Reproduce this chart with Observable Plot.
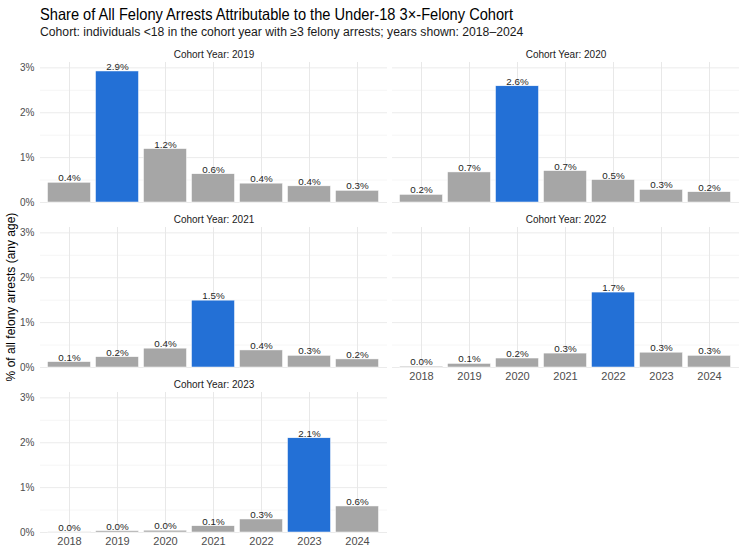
<!DOCTYPE html>
<html><head><meta charset="utf-8">
<script src="https://cdn.jsdelivr.net/npm/d3@7"></script>
<script src="https://cdn.jsdelivr.net/npm/@observablehq/plot@0.6"></script>
<style>
body{margin:0;background:#fff;font-family:"Liberation Sans",Arial,sans-serif;}
#wrap{position:relative;width:739px;height:547px;overflow:hidden;background:#fff}
#title{position:absolute;left:40px;top:5px;font-size:16.5px;line-height:19px;color:#000;white-space:nowrap;transform:scaleX(0.887);transform-origin:0 50%}
#subtitle{position:absolute;left:40px;top:25px;font-size:12.5px;line-height:15px;color:#1a1a1a;white-space:nowrap;transform:scaleX(0.975);transform-origin:0 50%}
#chart{position:absolute;left:0;top:40px}
#ytitle{position:absolute;left:11px;top:297px;font-size:12px;line-height:14px;color:#000;white-space:nowrap;transform:translate(-50%,-50%) rotate(-90deg)}
</style></head>
<body><div id="wrap">
<div id="title">Share of All Felony Arrests Attributable to the Under-18 3×-Felony Cohort</div>
<div id="subtitle">Cohort: individuals &lt;18 in the cohort year with ≥3 felony arrests; years shown: 2018–2024</div>
<div id="chart"></div>
<div id="ytitle">% of all felony arrests (any age)</div>
</div>
<script>
const years = ["2018","2019","2020","2021","2022","2023","2024"];
const cohortYears = ["2019","2020","2021","2022","2023"];
const share2019 = [0.44, 2.92, 1.19, 0.63, 0.42, 0.36, 0.26];
const share2020 = [0.17, 0.67, 2.59, 0.70, 0.50, 0.28, 0.23];
const share2021 = [0.12, 0.23, 0.42, 1.49, 0.38, 0.26, 0.18];
const share2022 = [0.02, 0.08, 0.20, 0.31, 1.67, 0.33, 0.26];
const share2023 = [0.01, 0.03, 0.04, 0.14, 0.29, 2.10, 0.58];
const yTicks = [0, 1, 2, 3];
const yMinor = [0.5, 1.5, 2.5];

const series = [share2019, share2020, share2021, share2022, share2023];
const data = [];
cohortYears.forEach((c, i) => years.forEach((y, j) => data.push({
  cohort: c, year: y, value: series[i][j], col: i % 2, row: Math.floor(i / 2), hl: y === c
})));
const strips = cohortYears.map((c, i) => ({cohort: c, col: i % 2, row: Math.floor(i / 2)}));

const BLUE = "#2370d6", GREY = "#a6a6a6";
const chart = Plot.plot({
  width: 739, height: 507,
  marginLeft: 39.5, marginRight: 0, marginTop: 22, marginBottom: 14.7,
  style: {fontFamily: "Liberation Sans, Arial, sans-serif", background: "white", overflow: "visible"},
  fx: {domain: [0, 1], paddingInner: 0.0156, paddingOuter: 0, axis: null},
  fy: {domain: [0, 1, 2], paddingInner: 0.152, paddingOuter: 0, axis: null},
  x: {domain: years, paddingInner: 0.1, paddingOuter: 0.15, label: null},
  y: {domain: [0, 3.12], label: null},
  marks: [
    Plot.gridY(yMinor, {stroke: "#f2f2f2", strokeOpacity: 1, strokeWidth: 0.8}),
    Plot.gridY(yTicks, {stroke: "#ebebeb", strokeOpacity: 1, strokeWidth: 1}),
    Plot.gridX({stroke: "#e8e8e8", strokeOpacity: 1, strokeWidth: 1}),
    Plot.barY(data, {fx: "col", fy: "row", x: "year", y: "value",
      fill: d => d.hl ? BLUE : GREY, stroke: "white", strokeWidth: 0.5}),
    Plot.text(data, {fx: "col", fy: "row", x: "year", y: "value",
      text: d => d.value.toFixed(1) + "%", lineAnchor: "bottom", dy: -1.5,
      fontSize: 9.8, fill: "#262626"}),
    Plot.text(strips, {fx: "col", fy: "row", frameAnchor: "top", lineAnchor: "bottom", dy: -5,
      text: d => "Cohort Year: " + d.cohort, fontSize: 10, fill: "#1a1a1a"}),
    Plot.axisX({tickSize: 0, tickPadding: 5, fontSize: 11, color: "#4d4d4d", label: null}),
    Plot.axisY(yTicks, {tickSize: 0, tickPadding: 6, tickFormat: d => d + "%", fontSize: 10, color: "#4d4d4d", label: null})
  ]
});
document.getElementById("chart").appendChild(chart);
</script>
</body></html>
